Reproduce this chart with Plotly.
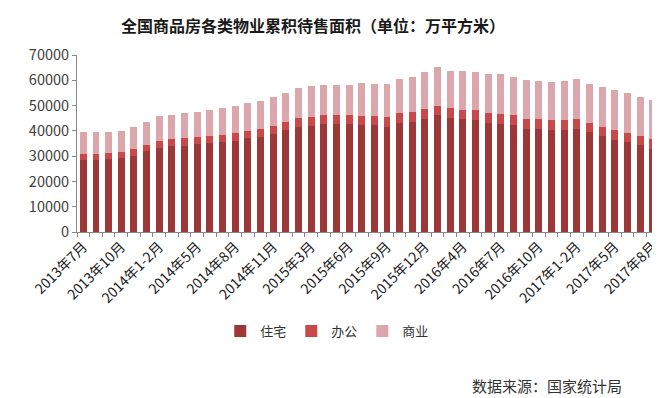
import plotly.graph_objects as go

categories = [
    "2013年7月", "2013年8月", "2013年9月", "2013年10月", "2013年11月", "2013年12月",
    "2014年1-2月", "2014年3月", "2014年4月", "2014年5月", "2014年6月", "2014年7月",
    "2014年8月", "2014年9月", "2014年10月", "2014年11月", "2014年12月",
    "2015年1-2月", "2015年3月", "2015年4月", "2015年5月", "2015年6月", "2015年7月",
    "2015年8月", "2015年9月", "2015年10月", "2015年11月", "2015年12月",
    "2016年1-2月", "2016年3月", "2016年4月", "2016年5月", "2016年6月", "2016年7月",
    "2016年8月", "2016年9月", "2016年10月", "2016年11月", "2016年12月",
    "2017年1-2月", "2017年3月", "2017年4月", "2017年5月", "2017年6月", "2017年7月",
    "2017年8月",
]

tick_labels = [
    "2013年7月", "2013年10月", "2014年1-2月", "2014年5月", "2014年8月", "2014年11月",
    "2015年3月", "2015年6月", "2015年9月", "2015年12月", "2016年4月", "2016年7月",
    "2016年10月", "2017年1-2月", "2017年5月", "2017年8月",
]

residential = [
    28500, 28400, 28800, 29200, 30200, 31900, 33400, 33900, 34200, 34700, 35200, 35500,
    36000, 37000, 37700, 38800, 40400, 41700, 42100, 42700, 42600, 42600, 42300, 42300,
    41700, 43200, 43700, 44800, 46100, 45200, 44500, 44300, 43200, 42700, 42300, 40800,
    40900, 40500, 40500, 40900, 39500, 37900, 36500, 35400, 34500, 33000,
]
office = [
    2300, 2300, 2400, 2400, 2500, 2600, 2700, 2700, 2800, 2800, 2900, 2900,
    3000, 3000, 3100, 3200, 3300, 3300, 3400, 3400, 3500, 3500, 3600, 3600,
    3600, 3700, 3700, 3800, 3800, 3800, 3800, 3800, 3800, 3800, 3800, 3800,
    3700, 3700, 3700, 3700, 3700, 3700, 3700, 3600, 3600, 3600,
]
commercial = [
    8600, 8700, 8200, 8500, 8700, 8900, 9800, 9700, 9900, 9900, 10200, 10600,
    10900, 10900, 11100, 11400, 11300, 11800, 12300, 12200, 12200, 12200, 13100, 12800,
    13400, 13800, 13800, 14600, 15300, 14600, 15300, 15000, 15300, 15800, 15100, 15700,
    15300, 15200, 15700, 16100, 15500, 15700, 16100, 16000, 15300, 15700,
]

series_names = ["住宅", "办公", "商业"]
colors = ["#9c3838", "#c9484a", "#dba7ad"]

FONT = "Noto Sans CJK SC"

fig = go.Figure()
for name, vals, col in zip(series_names, [residential, office, commercial], colors):
    fig.add_trace(go.Bar(x=categories, y=vals, name=name, marker_color=col,
                         marker_line_width=0))

ticktext = [c if c in tick_labels else "" for c in categories]

fig.update_layout(
    barmode="stack",
    bargap=0.45,
    width=660, height=398,
    margin=dict(l=69, r=9, t=47, b=174),
    paper_bgcolor="white", plot_bgcolor="white",
    font=dict(family=FONT, color="#404040", size=13),
    title=dict(text="<b>全国商品房各类物业累积待售面积（单位：万平方米）</b>",
               x=0.462, xanchor="center", y=0.955, yanchor="middle",
               font=dict(family=FONT, size=16, color="#1a1a1a")),
    showlegend=True,
    legend=dict(orientation="h", traceorder="normal",
                x=0.43, xanchor="center", y=-0.559, yanchor="middle",
                font=dict(family=FONT, size=13, color="#333333"),
                itemwidth=30, tracegroupgap=0, bgcolor="rgba(0,0,0,0)"),
    annotations=[dict(text="数据来源：国家统计局", xref="paper", yref="paper",
                      x=0.94, y=-0.87, xanchor="right", yanchor="middle",
                      showarrow=False, font=dict(family=FONT, size=15, color="#333333"))],
)

fig.update_xaxes(
    type="category",
    tickmode="array", tickvals=categories, ticktext=ticktext,
    tickson="boundaries", ticks="outside", ticklen=4, tickcolor="#888888",
    tickangle=-45, tickfont=dict(family=FONT, size=14, color="#222222"),
    showline=True, linecolor="#888888", linewidth=1,
    showgrid=False, zeroline=False,
)
fig.update_yaxes(
    range=[0, 70000], dtick=10000, tickformat="d",
    ticks="outside", ticklen=4, tickcolor="#888888",
    showline=True, linecolor="#888888", linewidth=1,
    showgrid=False, zeroline=False,
    tickfont=dict(family=FONT, size=14.5, color="#404040"),
)

fig.write_html("out.html")
